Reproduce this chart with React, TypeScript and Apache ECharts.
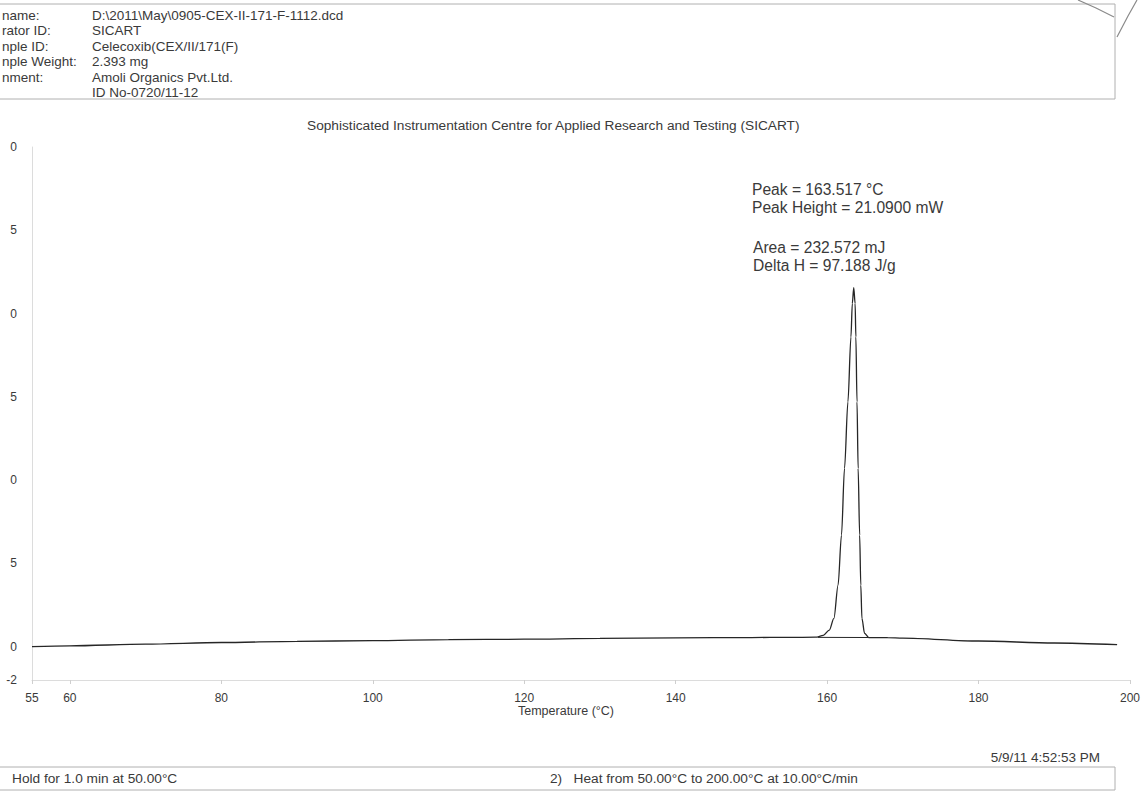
import React, { useEffect, useRef } from "react";
import * as echarts from "echarts";

// Temperature (°C) and heat flow (mW)
const temperatureC = [55, 60, 70, 80, 90, 100, 110, 120, 130, 140, 150, 155, 158.5, 159.5, 160.3, 160.9, 161.45, 161.9, 162.3, 162.75, 163.15, 163.33, 163.52, 163.7, 163.8, 163.95, 164.1, 164.3, 164.45, 164.6, 164.95, 165.5, 168, 170, 180, 190, 198.3];
const heatFlowMW = [0.0, 0.05, 0.15, 0.25, 0.32, 0.36, 0.42, 0.45, 0.5, 0.53, 0.55, 0.56, 0.57, 0.68, 1.0, 1.7, 3.7, 6.7, 10.7, 14.7, 18.6, 20.6, 21.56, 20.6, 18.6, 14.7, 10.7, 6.7, 3.7, 1.7, 0.8, 0.55, 0.54, 0.52, 0.34, 0.22, 0.12];

// Integration baseline under the melting peak
const baselineTemp = [158.8, 165.6];
const baselineMW = [0.56, 0.55];

// Axis ticks (y labels as they are visible on the cropped scan)
const xTickValues = [55, 60, 80, 100, 120, 140, 160, 180, 200];
const yTickValues = [-2, 0, 5, 10, 15, 20, 25, 30];
const yTickLabels = ["-2", "0", "5", "0", "5", "0", "5", "0"];

// Header and footer texts
const headerLabels = ["name:", "rator ID:", "nple ID:", "nple Weight:", "nment:", ""];
const headerValues = [
  "D:\\2011\\May\\0905-CEX-II-171-F-1112.dcd",
  "SICART",
  "Celecoxib(CEX/II/171(F)",
  "2.393 mg",
  "Amoli Organics Pvt.Ltd.",
  "ID No-0720/11-12",
];
const titleText = "Sophisticated Instrumentation Centre for Applied Research and Testing (SICART)";
const peakNotes = ["Peak = 163.517 °C", "Peak Height = 21.0900 mW"];
const areaNotes = ["Area = 232.572 mJ", "Delta H = 97.188 J/g"];
const xAxisTitle = "Temperature (°C)";
const dateText = "5/9/11 4:52:53 PM";
const step1Text = "Hold for 1.0 min at 50.00°C";
const step2Text = "2)   Heat from 50.00°C to 200.00°C at 10.00°C/min";

const FONT = '"Liberation Sans", Arial, sans-serif';
const TXT = "#3a3a3a";

export default function App() {
  const ref = useRef<HTMLDivElement>(null);

  useEffect(() => {
    if (!ref.current) return;
    const chart = echarts.init(ref.current, null, { renderer: "svg" });

    const txt = (x: number, y: number, text: string, size: number, align = "left", color = TXT) => ({
      type: "text",
      x,
      y,
      silent: true,
      style: {
        text,
        fill: color,
        font: `${size}px ${FONT}`,
        align,
        verticalAlign: "middle",
      },
    });

    const headerRowY = [15, 30.5, 46, 61.5, 77, 92];
    const graphic: any[] = [];
    // header box
    graphic.push({
      type: "polyline",
      silent: true,
      shape: { points: [[0, 4], [1115, 4], [1115, 99], [0, 99]] },
      style: { stroke: "#b0b0b0", lineWidth: 1, fill: null },
    });
    headerLabels.forEach((l, i) => {
      if (l) graphic.push(txt(2, headerRowY[i], l, 13.5));
    });
    headerValues.forEach((v, i) => graphic.push(txt(92, headerRowY[i], v, 13.5)));
    // handwritten mark top right
    graphic.push({
      type: "polyline",
      silent: true,
      shape: { points: [[1078, 0], [1096, 8], [1114, 17]] },
      style: { stroke: "#8a8a8a", lineWidth: 1.2, fill: null },
    });
    graphic.push({
      type: "polyline",
      silent: true,
      shape: { points: [[1137, 0], [1128, 16], [1117, 37]] },
      style: { stroke: "#8a8a8a", lineWidth: 1.2, fill: null },
    });
    // title
    graphic.push(txt(307, 125, titleText, 13.7));
    // peak annotations
    graphic.push(txt(752, 189, peakNotes[0], 15.6));
    graphic.push(txt(752, 207, peakNotes[1], 15.6));
    graphic.push(txt(753, 247, areaNotes[0], 15.6));
    graphic.push(txt(753, 265, areaNotes[1], 15.6));
    // x axis title
    graphic.push(txt(566, 711, xAxisTitle, 12.5, "center"));
    // date
    graphic.push(txt(1100, 757, dateText, 13.5, "right"));
    // bottom method box
    graphic.push({
      type: "polyline",
      silent: true,
      shape: { points: [[0, 767], [1115, 767], [1115, 790], [0, 790]] },
      style: { stroke: "#b0b0b0", lineWidth: 1, fill: null },
    });
    graphic.push(txt(12, 778, step1Text, 13.7));
    graphic.push(txt(550, 778, step2Text, 13.7));

    chart.setOption({
      animation: false,
      backgroundColor: "#ffffff",
      grid: { left: 32, right: 9, top: 147, bottom: 127, containLabel: false },
      xAxis: {
        type: "value",
        min: 55,
        max: 200,
        axisLine: { show: true, onZero: false, lineStyle: { color: "#dcdcdc", width: 1 } },
        axisTick: { show: true, customValues: xTickValues, length: 4, lineStyle: { color: "#cfcfcf" } },
        axisLabel: {
          customValues: xTickValues,
          margin: 12,
          color: TXT,
          fontSize: 12,
          fontFamily: FONT,
        },
        splitLine: { show: false },
      },
      yAxis: {
        type: "value",
        min: -2,
        max: 30,
        axisLine: { show: true, lineStyle: { color: "#dcdcdc", width: 1 } },
        axisTick: { show: false },
        axisLabel: {
          customValues: yTickValues,
          formatter: (v: number) => {
            const i = yTickValues.indexOf(v);
            return i >= 0 ? yTickLabels[i] : "";
          },
          margin: 15,
          color: TXT,
          fontSize: 12,
          fontFamily: FONT,
        },
        splitLine: { show: false },
      },
      series: [
        {
          type: "line",
          name: "Heat Flow",
          data: temperatureC.map((t, i) => [t, heatFlowMW[i]]),
          showSymbol: false,
          smooth: 0.3,
          smoothMonotone: "x",
          lineStyle: { color: "#262626", width: 1.3 },
          silent: true,
        },
        {
          type: "line",
          name: "Baseline",
          data: baselineTemp.map((t, i) => [t, baselineMW[i]]),
          showSymbol: false,
          lineStyle: { color: "#262626", width: 1 },
          silent: true,
        },
      ],
      graphic,
    });

    return () => chart.dispose();
  }, []);

  return (
    <div
      ref={ref}
      style={{ position: "absolute", left: 0, top: 0, width: 1143, height: 807, background: "#fff" }}
    />
  );
}
